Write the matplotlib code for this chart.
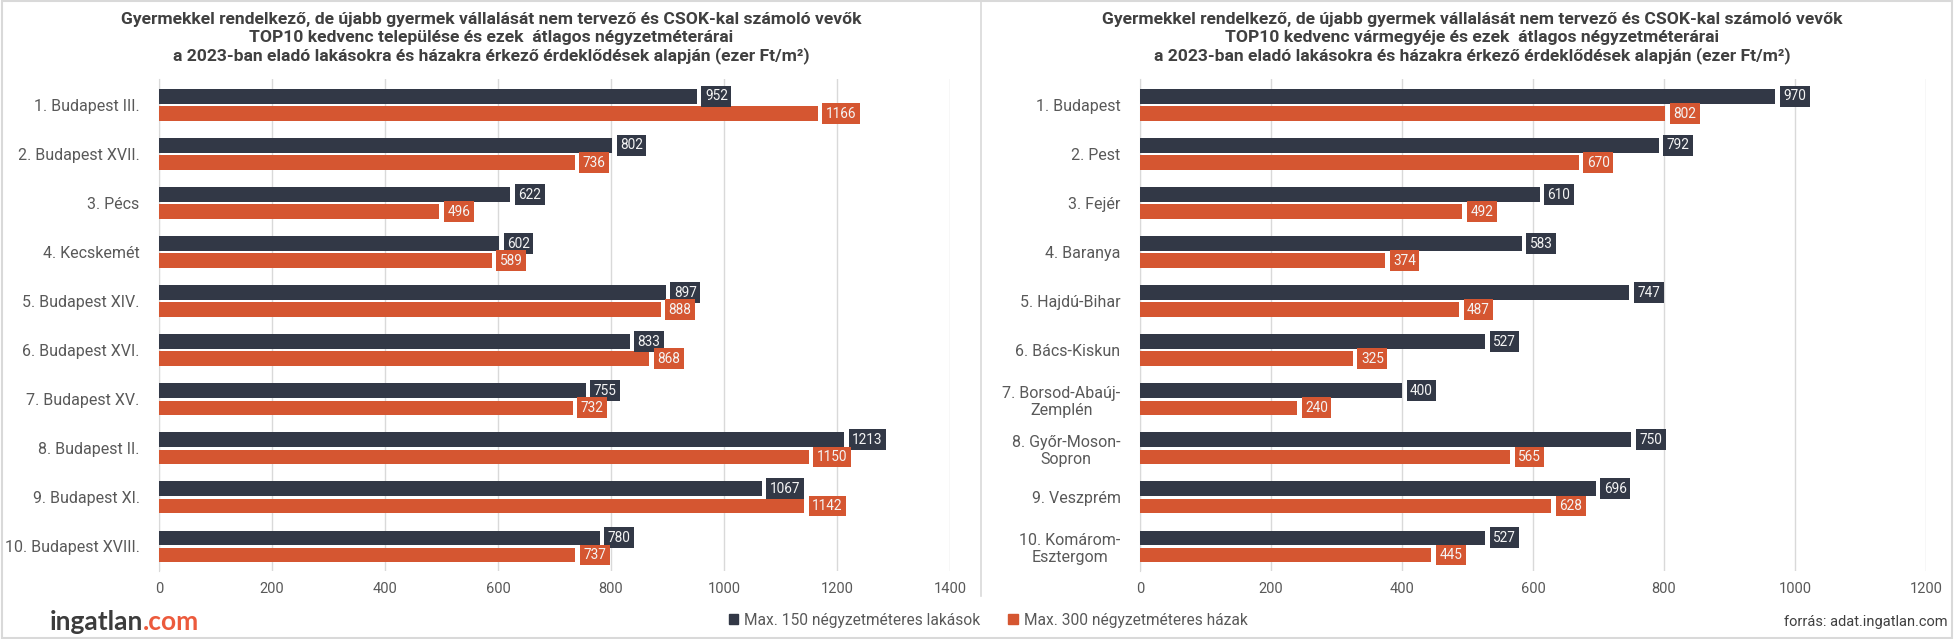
import matplotlib
matplotlib.use("Agg")
import matplotlib.pyplot as plt
from matplotlib.patches import Patch
import numpy as np

plt.rcParams['font.family'] = ['Roboto', 'DejaVu Sans']

# left chart: settlements
cities = ["1. Budapest III.", "2. Budapest XVII.", "3. Pécs", "4. Kecskemét",
          "5. Budapest XIV.", "6. Budapest XVI.", "7. Budapest XV.",
          "8. Budapest II.", "9. Budapest XI.", "10. Budapest XVIII."]
city_flats = [952, 802, 622, 602, 897, 833, 755, 1213, 1067, 780]
city_houses = [1166, 736, 496, 589, 888, 868, 732, 1150, 1142, 737]

# right chart: counties
counties = ["1. Budapest", "2. Pest", "3. Fejér", "4. Baranya", "5. Hajdú-Bihar",
            "6. Bács-Kiskun", "7. Borsod-Abaúj-\nZemplén", "8. Győr-Moson-\nSopron",
            "9. Veszprém", "10. Komárom-\nEsztergom"]
county_flats = [970, 792, 610, 583, 747, 527, 400, 750, 696, 527]
county_houses = [802, 670, 492, 374, 487, 325, 240, 565, 628, 445]

title_top = "Gyermekkel rendelkező, de újabb gyermek vállalását nem tervező és CSOK-kal számoló vevők"
title_bottom = "a 2023-ban eladó lakásokra és házakra érkező érdeklődések alapján (ezer Ft/m²)"
title_left = title_top + "\nTOP10 kedvenc települése és ezek  átlagos négyzetméterárai\n" + title_bottom
title_right = title_top + "\nTOP10 kedvenc vármegyéje és ezek  átlagos négyzetméterárai\n" + title_bottom

legend_labels = ["Max. 150 négyzetméteres lakások", "Max. 300 négyzetméteres házak"]

DARK = "#323846"
ORANGE = "#d55631"
GRID = "#d9d9d9"
LABEL = "#595959"

W, H = 1954, 639
fig = plt.figure(figsize=(W / 100, H / 100), dpi=100)

# panel frame
fig.add_artist(plt.Rectangle((0.0008, 0.002), 0.9984, 0.996, transform=fig.transFigure,
                             fill=False, edgecolor=GRID, lw=1.5))
fig.add_artist(plt.Line2D([981 / W, 981 / W], [1 - 596 / H, 0.998], transform=fig.transFigure,
                          color=GRID, lw=1.2))


def panel(rect, cats, flats, houses, xmax, title, title_x):
    ax = fig.add_axes(rect)
    y = np.arange(len(cats))
    off = 0.175
    h = 0.30
    ax.barh(y - off, flats, height=h, color=DARK, zorder=3)
    ax.barh(y + off, houses, height=h, color=ORANGE, zorder=3)
    for yy, v in zip(y, flats):
        ax.annotate(str(v), (v, yy - off), xytext=(8, 0), textcoords='offset pixels',
                    ha='left', va='center', color='#f4f4f4', fontsize=9.8, zorder=4,
                    bbox=dict(boxstyle='square,pad=0.25', fc=DARK, ec='none'))
    for yy, v in zip(y, houses):
        ax.annotate(str(v), (v, yy + off), xytext=(8, 0), textcoords='offset pixels',
                    ha='left', va='center', color='#f4f4f4', fontsize=9.8, zorder=4,
                    bbox=dict(boxstyle='square,pad=0.25', fc=ORANGE, ec='none'))
    ax.set_xlim(0, xmax)
    ax.set_ylim(len(cats) - 0.5, -0.53)
    ax.set_xticks(np.arange(0, xmax + 1, 200))
    ax.set_yticks(y)
    ax.set_yticklabels(cats, multialignment='center')
    ax.tick_params(axis='both', length=0, colors=LABEL, labelsize=11.5)
    ax.tick_params(axis='y', pad=14)
    ax.tick_params(axis='x', pad=8, labelsize=10.5)
    ax.grid(axis='x', color=GRID, lw=1, zorder=0)
    for s in ['top', 'right', 'bottom']:
        ax.spines[s].set_visible(False)
    ax.spines['left'].set_color(GRID)
    fig.text(title_x, 1 - 12 / H, title, ha='center', va='top', fontsize=12.6,
             fontweight='bold', color='#404040', linespacing=1.22)
    return ax


bottom = 1 - 571 / H
top = 1 - 79 / H
panel([159 / W, bottom, (950 - 159) / W, top - bottom], cities, city_flats, city_houses,
      1400, title_left, 491 / W)
panel([1140 / W, bottom, (1926 - 1140) / W, top - bottom], counties, county_flats,
      county_houses, 1200, title_right, 1472 / W)

handles = [Patch(color=DARK), Patch(color=ORANGE)]
fig.legend(handles, legend_labels, loc='center', bbox_to_anchor=(988 / W, 1 - 620 / H),
           ncol=2, frameon=False, fontsize=11.2, handlelength=0.6, handleheight=0.6,
           handletextpad=0.4, columnspacing=1.8, labelcolor=LABEL)

fig.text(1948 / W, 1 - 622 / H, "forrás: adat.ingatlan.com", ha='right', va='center',
         fontsize=10.5, color='#404040')

# logo
t1 = fig.text(50 / W, 1 - 622 / H, "ingatlan", ha='left', va='center', fontsize=19,
              fontweight='bold', color='#3c3c3c', family='Lato')
fig.canvas.draw()
bb = t1.get_window_extent()
fig.text(bb.x1 / W, 1 - 622 / H, ".com", ha='left', va='center', fontsize=19,
         fontweight='bold', color='#ec5a3c', family='Lato')

fig.savefig("out.png", dpi=100)
